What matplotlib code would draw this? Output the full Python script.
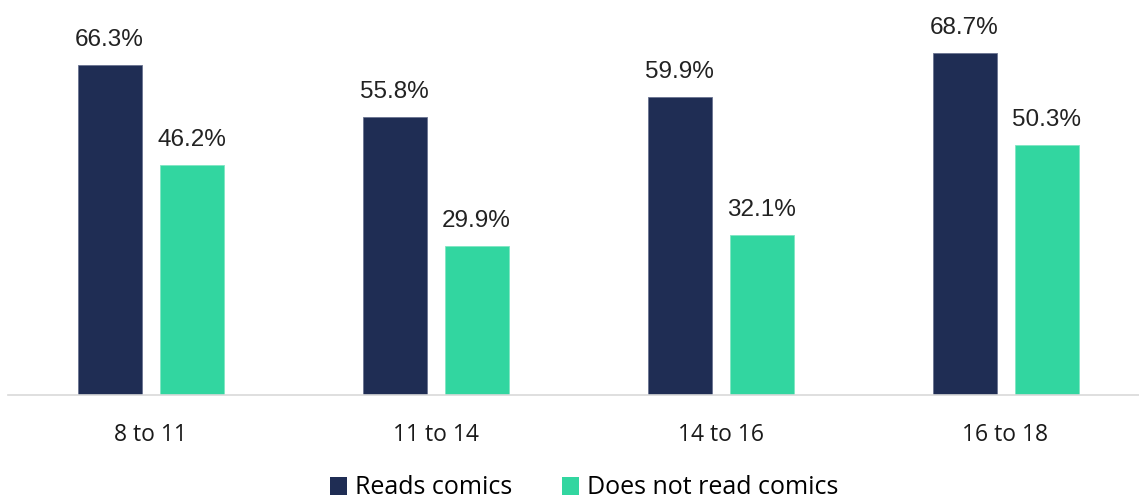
import matplotlib
matplotlib.use("Agg")
import matplotlib.pyplot as plt
import numpy as np
from matplotlib.patches import Patch

categories = ["8 to 11", "11 to 14", "14 to 16", "16 to 18"]
reads = [66.3, 55.8, 59.9, 68.7]
not_reads = [46.2, 29.9, 32.1, 50.3]
series_names = ["Reads comics", "Does not read comics"]
colors = ["#1F2D54", "#32D6A0"]

plt.rcParams['font.family'] = ['Open Sans', 'DejaVu Sans']

W, H = 1139, 501
fig = plt.figure(figsize=(W/100, H/100), dpi=100)
ax = fig.add_axes([8/W, (H-395)/H, 1131/W, 395/H])

x = np.arange(len(categories))
bw = 64/285
off = 41/285
b1 = ax.bar(x - off, reads, bw, color=colors[0], edgecolor="#6a7390", linewidth=0.6)
b2 = ax.bar(x + off, not_reads, bw, color=colors[1], edgecolor="#7fe6c3", linewidth=0.6)

for bars, vals in ((b1, reads), (b2, not_reads)):
    for r, v in zip(bars, vals):
        ax.annotate(f"{v}%", (r.get_x() + r.get_width()/2, v), xytext=(0, 10),
                    textcoords="offset points", ha="center", va="bottom",
                    fontsize=17.5, color="#222222", family=['Liberation Sans', 'DejaVu Sans'])

ax.set_xlim(-0.5, -0.5 + 1131/285)
ax.set_ylim(0, 395/4.977)
ax.set_yticks([])
ax.set_xticks(x)
ax.set_xticklabels(categories, fontsize=16.5, color="#1a1a1a")
ax.tick_params(axis='x', length=0, pad=20)
for s in ["top", "right", "left"]:
    ax.spines[s].set_visible(False)
ax.spines["bottom"].set_color("#d9d9d9")
ax.spines["bottom"].set_linewidth(1.2)

handles = [Patch(facecolor=c, label=n) for c, n in zip(colors, series_names)]
fig.legend(handles=handles, loc="center", bbox_to_anchor=(584/W, 1 - 488/H), ncol=2,
           frameon=False, fontsize=18, handlelength=0.7, handleheight=0.7,
           handletextpad=0.3, columnspacing=2.0)

fig.savefig("out.png", dpi=100)
